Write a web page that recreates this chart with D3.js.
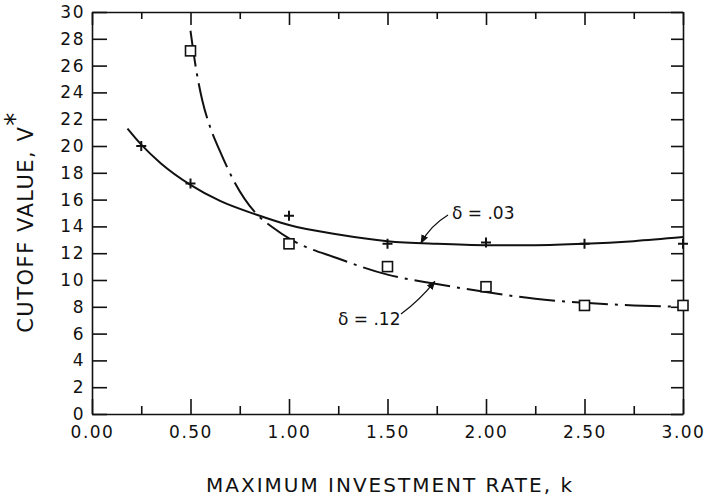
<!DOCTYPE html>
<html>
<head>
<meta charset="utf-8">
<script src="https://cdn.jsdelivr.net/npm/d3@7/dist/d3.min.js"></script>
<style>
  body { margin: 0; background: #fff; }
  svg { display: block; font-family: "DejaVu Sans", sans-serif; }
  .axis path, .axis line { stroke: #111; stroke-width: 1.6; }
  .axis text { fill: #111; font-size: 17px; letter-spacing: 1.5px; }
</style>
</head>
<body>
<div id="chart"></div>
<script>
var kPoints = [0.25, 0.5, 1.0, 1.5, 2.0, 2.5, 3.0];
var vLowDelta = [20.0, 17.2, 14.8, 12.7, 12.8, 12.7, 12.7];     // delta = .03, "+"
var kSquares = [0.5, 1.0, 1.5, 2.0, 2.5, 3.0];
var vHighDelta = [27.1, 12.7, 11.0, 9.5, 8.1, 8.1];             // delta = .12, squares

// Fitted curves.
var kCurveLow = [0.18, 0.25, 0.35, 0.5, 0.65, 0.84, 1.0, 1.25, 1.5, 1.75, 2.0, 2.25, 2.5, 2.75, 3.0];
var vCurveLow = [21.3, 20.1, 18.7, 17.1, 15.9, 14.85, 14.1, 13.4, 12.9, 12.7, 12.6, 12.6, 12.7, 12.9, 13.2];
var kCurveHigh = [0.5, 0.53, 0.56, 0.6, 0.65, 0.72, 0.84, 0.92, 1.0, 1.25, 1.5, 1.75, 2.0, 2.25, 2.5, 2.75, 3.0];
var vCurveHigh = [28.6, 25.6, 23.4, 21.4, 19.6, 17.4, 14.85, 13.9, 13.1, 11.6, 10.4, 9.7, 9.1, 8.6, 8.3, 8.1, 8.0];

var xMajorTicks = [0, 0.5, 1.0, 1.5, 2.0, 2.5, 3.0];
var xMinorTicks = [0.25, 0.75, 1.25, 1.75, 2.25, 2.75];
var yTicks = d3.range(0, 31, 2);

var width = 704, height = 499;
var margin = {left: 92, right: 21, top: 12, bottom: 85};

var svg = d3.select("#chart").append("svg")
  .attr("width", width)
  .attr("height", height);

var x = d3.scaleLinear().domain([0, 3]).range([margin.left, width - margin.right]);
var y = d3.scaleLinear().domain([0, 30]).range([height - margin.bottom, margin.top]);

// Axes: ticks point inward on all four sides.
svg.append("g").attr("class", "axis")
  .attr("transform", "translate(0," + y(0) + ")")
  .call(d3.axisBottom(x).tickValues(xMajorTicks).tickSizeInner(-15).tickSizeOuter(0)
    .tickPadding(12).tickFormat(d3.format(".2f")));
svg.append("g").attr("class", "axis")
  .attr("transform", "translate(0," + y(0) + ")")
  .call(d3.axisBottom(x).tickValues(xMinorTicks).tickSizeInner(-8).tickSizeOuter(0).tickFormat(""))
  .select(".domain").remove();
svg.append("g").attr("class", "axis")
  .attr("transform", "translate(0," + y(30) + ")")
  .call(d3.axisTop(x).tickValues(xMajorTicks).tickSizeInner(-13).tickSizeOuter(0).tickFormat(""));
svg.append("g").attr("class", "axis")
  .attr("transform", "translate(0," + y(30) + ")")
  .call(d3.axisTop(x).tickValues(xMinorTicks).tickSizeInner(-7).tickSizeOuter(0).tickFormat(""))
  .select(".domain").remove();
svg.append("g").attr("class", "axis")
  .attr("transform", "translate(" + x(0) + ",0)")
  .call(d3.axisLeft(y).tickValues(yTicks).tickSizeInner(-15).tickSizeOuter(0).tickPadding(7));
svg.append("g").attr("class", "axis")
  .attr("transform", "translate(" + x(3) + ",0)")
  .call(d3.axisRight(y).tickValues(yTicks).tickSizeInner(-12).tickSizeOuter(0).tickFormat(""));

svg.selectAll(".axis text").attr("font-family", "DejaVu Sans, sans-serif");

// Curves.
var line = d3.line()
  .x(function(d) { return x(d[0]); })
  .y(function(d) { return y(d[1]); })
  .curve(d3.curveMonotoneX);

svg.append("path")
  .datum(d3.zip(kCurveLow, vCurveLow))
  .attr("d", line)
  .attr("fill", "none")
  .attr("stroke", "#111")
  .attr("stroke-width", 2);

svg.append("path")
  .datum(d3.zip(kCurveHigh, vCurveHigh))
  .attr("d", line)
  .attr("fill", "none")
  .attr("stroke", "#111")
  .attr("stroke-width", 2)
  .attr("stroke-dasharray", "36,7,3,7");

// Markers.
svg.append("g").selectAll("path")
  .data(d3.zip(kPoints, vLowDelta))
  .join("path")
  .attr("transform", function(d) { return "translate(" + x(d[0]) + "," + y(d[1]) + ")"; })
  .attr("d", "M-5,0H5M0,-5V5")
  .attr("stroke", "#111")
  .attr("stroke-width", 2);

svg.append("g").selectAll("rect")
  .data(d3.zip(kSquares, vHighDelta))
  .join("rect")
  .attr("x", function(d) { return x(d[0]) - 5; })
  .attr("y", function(d) { return y(d[1]) - 5; })
  .attr("width", 10)
  .attr("height", 10)
  .attr("fill", "#fff")
  .attr("stroke", "#111")
  .attr("stroke-width", 1.6);

// Annotations with leader arrows.
svg.append("defs").append("marker")
  .attr("id", "arrow")
  .attr("viewBox", "0 0 10 10")
  .attr("refX", 9).attr("refY", 5)
  .attr("markerWidth", 7).attr("markerHeight", 7)
  .attr("orient", "auto")
  .append("path").attr("d", "M0,1L10,5L0,9Z").attr("fill", "#111");

function annotate(label, tx, ty, fromX, fromY, toK, toV, ctrlX, ctrlY) {
  svg.append("path")
    .attr("d", "M" + fromX + "," + fromY + "Q" + ctrlX + "," + ctrlY + " " + x(toK) + "," + y(toV))
    .attr("fill", "none")
    .attr("stroke", "#111")
    .attr("stroke-width", 1.3)
    .attr("marker-end", "url(#arrow)");
  svg.append("text")
    .attr("x", tx).attr("y", ty)
    .attr("font-size", 17)
    .attr("fill", "#111")
    .text(label);
}
annotate("\u03b4 = .03", 452, 219, 448, 215, 1.67, 12.75, 430, 226);
annotate("\u03b4 = .12", 338, 325, 401, 314, 1.74, 9.9, 420, 300);

// Axis titles.
svg.append("text")
  .attr("x", 390).attr("y", 492)
  .attr("text-anchor", "middle")
  .attr("font-size", 20)
  .attr("letter-spacing", 2)
  .attr("fill", "#111")
  .text("MAXIMUM INVESTMENT RATE, k");

svg.append("text")
  .attr("transform", "translate(33,222) rotate(-90)")
  .attr("text-anchor", "middle")
  .attr("font-size", 21)
  .attr("letter-spacing", 1.5)
  .attr("fill", "#111")
  .text("CUTOFF VALUE, V")
  .append("tspan")
  .attr("dy", -9)
  .attr("font-size", 26)
  .text("*");
</script>
</body>
</html>
